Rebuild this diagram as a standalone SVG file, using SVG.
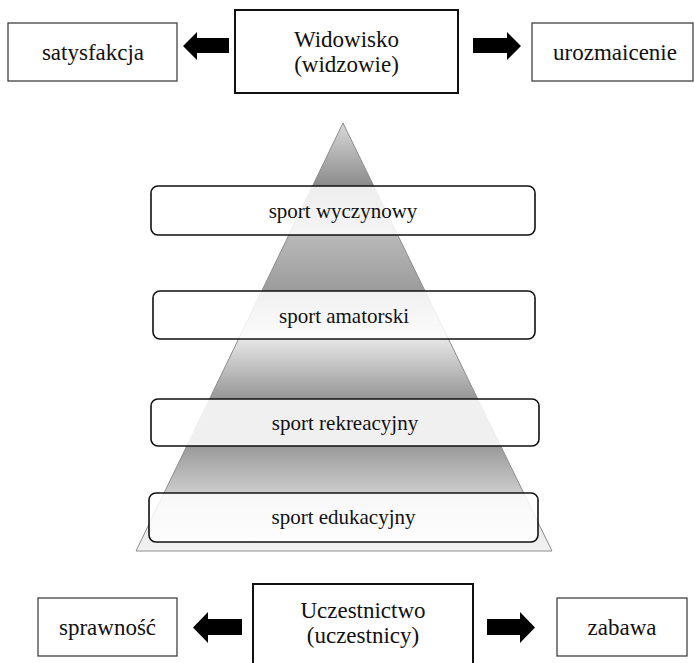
<svg xmlns="http://www.w3.org/2000/svg" width="694" height="663" viewBox="0 0 694 663">
<defs>
<linearGradient id="pyr" gradientUnits="userSpaceOnUse" x1="0" y1="123" x2="0" y2="551">
<stop offset="0" stop-color="#d9d9d9"/>
<stop offset="0.145" stop-color="#8c8c8c"/>
<stop offset="0.265" stop-color="#b8b8b8"/>
<stop offset="0.39" stop-color="#9c9c9c"/>
<stop offset="0.505" stop-color="#e6e6e6"/>
<stop offset="0.64" stop-color="#999999"/>
<stop offset="0.755" stop-color="#9a9a9a"/>
<stop offset="0.865" stop-color="#cccccc"/>
<stop offset="0.975" stop-color="#efefef"/>
<stop offset="1" stop-color="#f2f2f2"/>
</linearGradient>
</defs>
<style>
.box{fill:#fff;stroke:#333;stroke-width:1.2}
.main{fill:#fff;stroke:#111;stroke-width:2}
.lvl{fill:#fff;fill-opacity:0.85;stroke:#111;stroke-width:1.6}
text{font-family:'Liberation Serif','Tinos','DejaVu Serif','Noto Serif','FreeSerif','Times New Roman',Times,serif;fill:#111;text-anchor:middle}
.t{font-size:23px}
.s{font-size:21px}
.arr{fill:#000}
</style>
<rect width="694" height="663" fill="#fff"/>

<g id="pyramid">
<polygon points="343,123 552,551 136,551" fill="url(#pyr)" stroke="#8c8c8c" stroke-width="1"/>
</g>

<g id="level-wyczynowy">
<rect class="lvl" x="151" y="186" width="384" height="49" rx="7"/>
<text class="s" x="343" y="218">sport wyczynowy</text>
</g>
<g id="level-amatorski">
<rect class="lvl" x="153" y="291" width="382" height="48" rx="7"/>
<text class="s" x="344" y="323">sport amatorski</text>
</g>
<g id="level-rekreacyjny">
<rect class="lvl" x="151" y="399" width="388" height="47" rx="7"/>
<text class="s" x="345" y="430">sport rekreacyjny</text>
</g>
<g id="level-edukacyjny">
<rect class="lvl" x="149" y="493" width="389" height="49" rx="7"/>
<text class="s" x="343.5" y="524">sport edukacyjny</text>
</g>

<g id="widowisko">
<rect class="main" x="235" y="10" width="223" height="83"/>
<text class="t" x="346.5" y="47">Widowisko</text>
<text class="t" x="346.5" y="72">(widzowie)</text>
</g>
<g id="satysfakcja">
<rect class="box" x="8" y="23" width="169" height="58"/>
<text class="t" x="93" y="60">satysfakcja</text>
</g>
<g id="urozmaicenie">
<rect class="box" x="532" y="23" width="161" height="58"/>
<text class="t" x="615" y="60">urozmaicenie</text>
</g>

<g id="uczestnictwo">
<rect class="main" x="253" y="584" width="220" height="82"/>
<text class="t" x="363" y="618">Uczestnictwo</text>
<text class="t" x="363" y="643">(uczestnicy)</text>
</g>
<g id="sprawnosc">
<rect class="box" x="38" y="598" width="139" height="58"/>
<text class="t" x="107.5" y="635">sprawność</text>
</g>
<g id="zabawa">
<rect class="box" x="557" y="598" width="130" height="58"/>
<text class="t" x="622" y="635">zabawa</text>
</g>

<g id="connectors">
<polygon class="arr" points="183,46 197,32 197,38 229,38 229,53 197,53 197,60"/>
<polygon class="arr" points="521,46 507,32 507,38 473,38 473,53 507,53 507,60"/>
<polygon class="arr" points="193,627.5 208,612 208,619 242,619 242,635 208,635 208,643"/>
<polygon class="arr" points="535,627.5 520,612 520,619 487,619 487,635 520,635 520,643"/>
</g>
</svg>
